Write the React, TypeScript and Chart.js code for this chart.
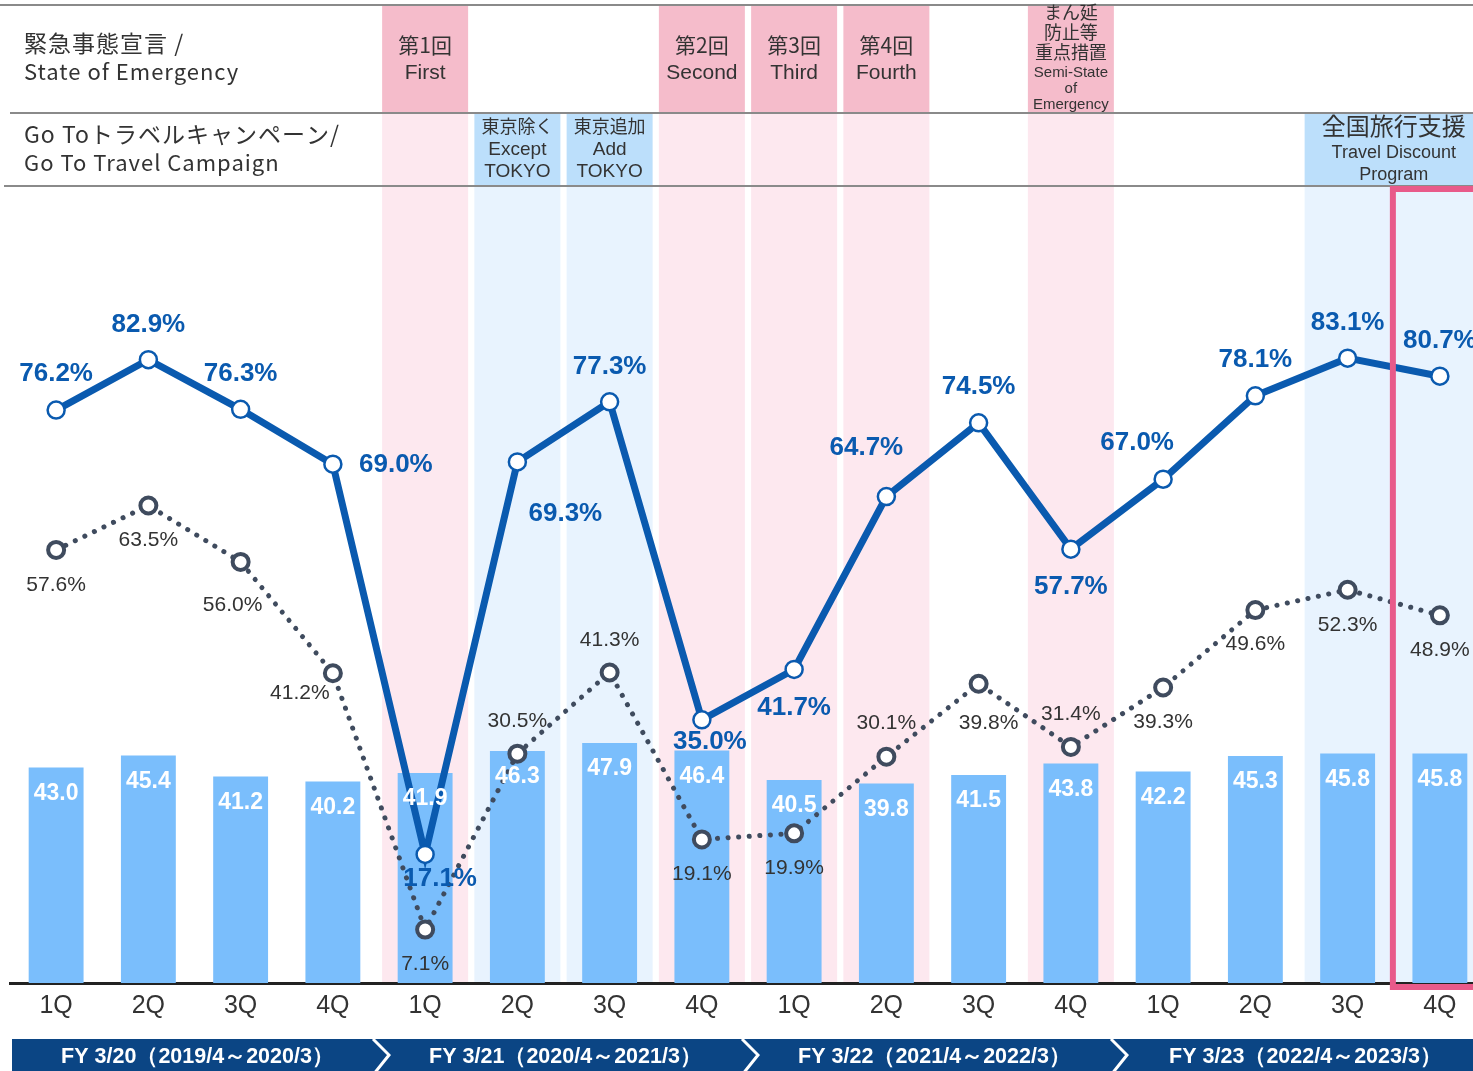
import React, { useEffect, useRef } from "react";
import { Chart, registerables } from "chart.js";

Chart.register(...registerables);

// ---------- data ----------
const quarters = ["1Q", "2Q", "3Q", "4Q", "1Q", "2Q", "3Q", "4Q", "1Q", "2Q", "3Q", "4Q", "1Q", "2Q", "3Q", "4Q"];
const fiscalYears = [
  "FY 3/20（2019/4～2020/3）",
  "FY 3/21（2020/4～2021/3）",
  "FY 3/22（2021/4～2022/3）",
  "FY 3/23（2022/4～2023/3）",
];
const barValues = [43.0, 45.4, 41.2, 40.2, 41.9, 46.3, 47.9, 46.4, 40.5, 39.8, 41.5, 43.8, 42.2, 45.3, 45.8, 45.8];
const solidValues = [76.2, 82.9, 76.3, 69.0, 17.1, 69.3, 77.3, 35.0, 41.7, 64.7, 74.5, 57.7, 67.0, 78.1, 83.1, 80.7];
const dottedValues = [57.6, 63.5, 56.0, 41.2, 7.1, 30.5, 41.3, 19.1, 19.9, 30.1, 39.8, 31.4, 39.3, 49.6, 52.3, 48.9];

const emergencyBands = [
  { idx: 4, jp: ["第1回"], en: ["First"] },
  { idx: 7, jp: ["第2回"], en: ["Second"] },
  { idx: 8, jp: ["第3回"], en: ["Third"] },
  { idx: 9, jp: ["第4回"], en: ["Fourth"] },
];
const semiStateBand = { idx: 11, jp: ["まん延", "防止等", "重点措置"], en: ["Semi-State", "of", "Emergency"] };
const goToBands = [
  { from: 5, to: 5, jp: "東京除く", en: ["Except", "TOKYO"] },
  { from: 6, to: 6, jp: "東京追加", en: ["Add", "TOKYO"] },
];
const travelDiscountBand = { from: 14, to: 15, jp: "全国旅行支援", en: ["Travel Discount", "Program"] };
const highlightIndex = 15;

// label offsets (style)
const solidLabelOffsets: [number, number][] = [
  [0, -36], [0, -35], [0, -35], [63, 1], [15, 24], [48, 52], [0, -35], [8, 22],
  [0, 38], [-20, -49], [0, -36], [0, 38], [-26, -36], [0, -36], [0, -35], [0, -35],
];
const dottedLabelOffsets: [number, number][] = [
  [0, 35], [0, 35], [-8, 43], [-33, 20], [0, 35], [0, -32], [0, -32], [0, 35],
  [0, 35], [0, -33], [10, 39], [0, -33], [0, 35], [0, 34], [0, 35], [0, 35],
];

// ---------- styles ----------
const JP = '"Noto Sans CJK JP", "Noto Sans", sans-serif';
const EN = '"Liberation Sans", Arial, sans-serif';
const NARROW = '"Liberation Sans Narrow", "Liberation Sans", Arial, sans-serif';
const TEXT = "#333333";
const PINK_HEAD = "#f5bccb";
const PINK_BODY = "#fde8ef";
const BLUE_HEAD = "#bcdffb";
const BLUE_BODY = "#e8f3fe";
const BAR = "#7abefc";
const SOLID = "#0a5aaf";
const DOTTED = "#3f4b5e";
const FY_BG = "#0b4584";

const CANVAS_W = 1490;
const CANVAS_H = 1071;
const HEAD_TOP = 5;
const ROW1 = 113;
const ROW2 = 186;
const BAND_HALF = 43;

function text(
  ctx: CanvasRenderingContext2D,
  s: string,
  x: number,
  y: number,
  font: string,
  color = TEXT,
  align: CanvasTextAlign = "center",
  spacing = "0px"
) {
  ctx.font = font;
  ctx.fillStyle = color;
  ctx.textAlign = align;
  ctx.textBaseline = "middle";
  (ctx as any).letterSpacing = spacing;
  ctx.fillText(s, x, y);
  (ctx as any).letterSpacing = "0px";
}

const backgroundPlugin = {
  id: "bgHeader",
  beforeDraw(chart: any) {
    const ctx: CanvasRenderingContext2D = chart.ctx;
    const xs = chart.scales.x;
    const bottom = chart.chartArea.bottom;
    ctx.save();
    ctx.fillStyle = "#fff";
    ctx.fillRect(0, 0, chart.width, chart.height);

    // emergency bands
    const pinkIdx = [...emergencyBands.map((b) => b.idx), semiStateBand.idx];
    pinkIdx.forEach((i) => {
      const c = xs.getPixelForValue(i);
      ctx.fillStyle = PINK_HEAD;
      ctx.fillRect(c - BAND_HALF, HEAD_TOP, BAND_HALF * 2, ROW1 - HEAD_TOP);
      ctx.fillStyle = PINK_BODY;
      ctx.fillRect(c - BAND_HALF, ROW1, BAND_HALF * 2, bottom - ROW1);
    });
    // go to bands
    [...goToBands, travelDiscountBand].forEach((b) => {
      const x0 = xs.getPixelForValue(b.from) - BAND_HALF;
      const x1 = xs.getPixelForValue(b.to) + BAND_HALF;
      ctx.fillStyle = BLUE_HEAD;
      ctx.fillRect(x0, ROW1, x1 - x0, ROW2 - ROW1);
      ctx.fillStyle = BLUE_BODY;
      ctx.fillRect(x0, ROW2, x1 - x0, bottom - ROW2);
    });

    // lines
    ctx.strokeStyle = "#8a8a8a";
    ctx.lineWidth = 2;
    ctx.beginPath();
    ctx.moveTo(0, HEAD_TOP);
    ctx.lineTo(chart.width, HEAD_TOP);
    ctx.moveTo(10, ROW1);
    ctx.lineTo(chart.width, ROW1);
    ctx.moveTo(4, ROW2);
    ctx.lineTo(chart.width, ROW2);
    ctx.stroke();

    // header left texts
    text(ctx, "緊急事態宣言 /", 24, 43, `23px ${JP}`, TEXT, "left", "1px");
    text(ctx, "State of Emergency", 24, 72, `22px ${JP}`, TEXT, "left", "1px");
    text(ctx, "Go Toトラベルキャンペーン/", 24, 134, `23px ${JP}`, TEXT, "left", "1px");
    text(ctx, "Go To Travel Campaign", 24, 163, `22px ${JP}`, TEXT, "left", "1px");

    emergencyBands.forEach((b) => {
      const c = xs.getPixelForValue(b.idx);
      text(ctx, b.jp[0], c, 45, `21px ${JP}`);
      text(ctx, b.en[0], c, 73, `21px ${EN}`);
    });
    {
      const c = xs.getPixelForValue(semiStateBand.idx);
      semiStateBand.jp.forEach((s, k) => text(ctx, s, c, 12 + k * 20, `18px ${JP}`));
      semiStateBand.en.forEach((s, k) => text(ctx, s, c, 73 + k * 16, `15px ${EN}`));
    }
    goToBands.forEach((b) => {
      const c = xs.getPixelForValue(b.from);
      text(ctx, b.jp, c, 126, `18px ${JP}`);
      text(ctx, b.en[0], c, 150, `19px ${EN}`);
      text(ctx, b.en[1], c, 172, `19px ${EN}`);
    });
    {
      const b = travelDiscountBand;
      const c = (xs.getPixelForValue(b.from) + xs.getPixelForValue(b.to)) / 2;
      text(ctx, b.jp, c, 126, `24px ${JP}`);
      text(ctx, b.en[0], c, 153, `18px ${EN}`);
      text(ctx, b.en[1], c, 175, `18px ${EN}`);
    }
    ctx.restore();
  },
  afterDatasetsDraw(chart: any) {
    const ctx: CanvasRenderingContext2D = chart.ctx;
    ctx.save();
    // bar labels
    const barMeta = chart.getDatasetMeta(0);
    barMeta.data.forEach((el: any, i: number) => {
      text(ctx, barValues[i].toFixed(1), el.x, el.y + 26, `bold 23px ${EN}`, "#ffffff");
    });
    const dotMeta = chart.getDatasetMeta(1);
    dotMeta.data.forEach((el: any, i: number) => {
      const [dx, dy] = dottedLabelOffsets[i];
      text(ctx, dottedValues[i].toFixed(1) + "%", el.x + dx, el.y + dy, `21px ${EN}`, TEXT);
    });
    const solMeta = chart.getDatasetMeta(2);
    solMeta.data.forEach((el: any, i: number) => {
      const [dx, dy] = solidLabelOffsets[i];
      text(ctx, solidValues[i].toFixed(1) + "%", el.x + dx, el.y + dy, `bold 26px ${EN}`, SOLID);
    });
    ctx.restore();
  },
  afterDraw(chart: any) {
    const ctx: CanvasRenderingContext2D = chart.ctx;
    const xs = chart.scales.x;
    const { top, bottom } = chart.chartArea;
    ctx.save();
    // highlight rectangle
    const hx = xs.getPixelForValue(highlightIndex) - 47;
    ctx.strokeStyle = "#e85a8a";
    ctx.lineWidth = 6;
    ctx.strokeRect(hx, top + 3, 200, bottom - top + 1);

    // FY band
    const bandTop = 1039;
    const bandBot = 1075;
    ctx.fillStyle = FY_BG;
    ctx.fillRect(12, bandTop, chart.width - 12, bandBot - bandTop);
    const bounds = [3, 7, 11].map((i) => (xs.getPixelForValue(i) + xs.getPixelForValue(i + 1)) / 2);
    ctx.strokeStyle = "#ffffff";
    ctx.lineWidth = 3;
    bounds.forEach((b) => {
      ctx.beginPath();
      ctx.moveTo(b - 6, bandTop);
      ctx.lineTo(b + 10, 1055);
      ctx.lineTo(b - 6, bandBot);
      ctx.stroke();
    });
    const edges = [12, ...bounds, chart.width];
    fiscalYears.forEach((s, k) => {
      const c = (edges[k] + edges[k + 1]) / 2 + 2;
      text(ctx, s, c, 1057, `bold 21.5px ${NARROW}`, "#ffffff");
    });
    ctx.restore();
  },
};

export default function App() {
  const ref = useRef<HTMLCanvasElement | null>(null);
  useEffect(() => {
    if (!ref.current) return;
    const chart = new Chart(ref.current, {
      type: "bar",
      data: {
        labels: quarters,
        datasets: [
          {
            type: "bar",
            data: barValues,
            backgroundColor: BAR,
            barPercentage: 0.595,
            categoryPercentage: 1,
            yAxisID: "y",
            order: 3,
          } as any,
          {
            type: "line",
            data: dottedValues,
            borderColor: DOTTED,
            borderWidth: 5,
            borderDash: [0.1, 10.5],
            borderCapStyle: "round",
            pointRadius: 8,
            pointBorderWidth: 4,
            pointBackgroundColor: "#ffffff",
            pointBorderColor: DOTTED,
            yAxisID: "y1",
            order: 2,
            clip: false,
          } as any,
          {
            type: "line",
            data: solidValues,
            borderColor: SOLID,
            borderWidth: 7,
            borderJoinStyle: "miter",
            pointRadius: 8.5,
            pointBorderWidth: 2.5,
            pointBackgroundColor: "#ffffff",
            pointBorderColor: SOLID,
            yAxisID: "y1",
            order: 1,
            clip: false,
          } as any,
        ],
      },
      options: {
        responsive: false,
        animation: false,
        events: [],
        layout: {
          autoPadding: false,
          padding: { top: ROW2, left: 10, right: CANVAS_W - 1486, bottom: CANVAS_H - 983 - 40 },
        },
        plugins: { legend: { display: false }, tooltip: { enabled: false }, title: { display: false } },
        scales: {
          x: {
            type: "category",
            offset: true,
            grid: { display: false, drawTicks: false },
            border: { display: true, color: "#222222", width: 3 },
            ticks: { font: { size: 25, family: EN }, color: TEXT, padding: 8, autoSkip: false, maxRotation: 0 },
            afterFit: (s: any) => {
              s.height = 40;
              s.paddingLeft = 0;
              s.paddingRight = 0;
            },
          },
          y: { display: false, min: 0, max: 159 },
          y1: { display: false, min: 0, max: 106 },
        },
      } as any,
      plugins: [backgroundPlugin],
    });
    return () => chart.destroy();
  }, []);
  return (
    <div style={{ position: "absolute", left: 0, top: 0, width: 1473, height: 1071, overflow: "hidden", background: "#fff" }}>
      <canvas ref={ref} width={CANVAS_W} height={CANVAS_H} style={{ display: "block", width: CANVAS_W, height: CANVAS_H }} />
    </div>
  );
}
